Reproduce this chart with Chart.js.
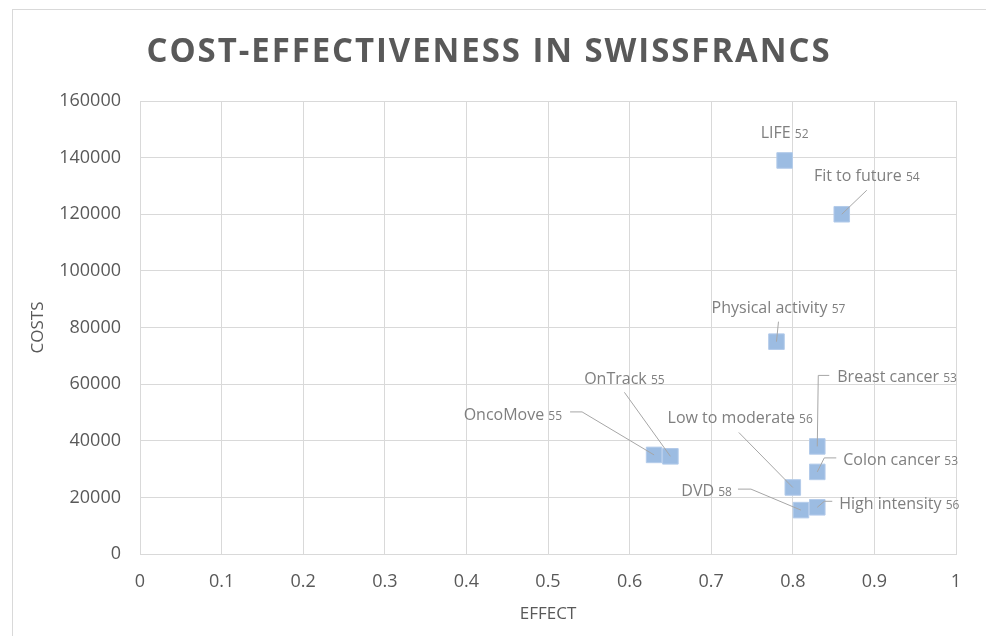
<!DOCTYPE html>
<html>
<head>
<meta charset="utf-8">
<script src="https://cdn.jsdelivr.net/npm/chart.js@4.4.1/dist/chart.umd.min.js"></script>
<style>
    html, body { margin: 0; padding: 0; background: #ffffff; }
    #wrap { position: relative; width: 986px; height: 636px; overflow: hidden; }
</style>
</head>
<body>
<div id="wrap">
    <canvas id="costChart" width="986" height="636"></canvas>
</div>
<script>
// DATA
const programs = [
    "LIFE",
    "Fit to future",
    "Physical activity",
    "Breast cancer",
    "Colon cancer",
    "Low to moderate",
    "DVD",
    "High intensity",
    "OnTrack",
    "OncoMove"
];

const refNumbers = ["52", "54", "57", "53", "53", "56", "58", "56", "55", "55"];

const effectValues = [0.79, 0.86, 0.78, 0.83, 0.83, 0.80, 0.81, 0.83, 0.65, 0.63];

const costValues = [139000, 120000, 75000, 38000, 29000, 23500, 15500, 16500, 34500, 35000];

const xTicks = [0, 0.1, 0.2, 0.3, 0.4, 0.5, 0.6, 0.7, 0.8, 0.9, 1];
const yTicks = [0, 20000, 40000, 60000, 80000, 100000, 120000, 140000, 160000];

const chartTitle = "COST-EFFECTIVENESS IN SWISSFRANCS";

// label placement, in pixels relative to each point (same order as programs)
const labelLayout = [
    { align: "center", dx: 0,   dy: -22, leader: [] },
    { align: "center", dx: 25,  dy: -33, leader: [[25, -24]] },
    { align: "center", dx: 2,   dy: -29, leader: [[2, -20]] },
    { align: "left",   dx: 20,  dy: -64, leader: [[12, -71], [1, -71]] },
    { align: "left",   dx: 26,  dy: -7,  leader: [[19, -14], [7, -14]] },
    { align: "right",  dx: 20,  dy: -64, leader: [[-54, -55]] },
    { align: "right",  dx: -69, dy: -14, leader: [[-63, -21], [-50, -21]] },
    { align: "left",   dx: 22,  dy: 2,   leader: [[15, -6], [7, -6]] },
    { align: "center", dx: -46, dy: -72, leader: [[-46, -64]] },
    { align: "right",  dx: -92, dy: -35, leader: [[-84, -43], [-72, -43]] }
];

const points = effectValues.map((x, i) => ({ x: x, y: costValues[i] }));

const fontName = "'Open Sans', 'Liberation Sans', sans-serif";
const gridColor = "#d9d9d9";

// frame + title
const framePlugin = {
    id: "frameTitle",
    beforeDraw(chart)
    {
        const ctx = chart.ctx;
        ctx.save();
        ctx.strokeStyle = gridColor;
        ctx.lineWidth = 1;
        ctx.strokeRect(12.5, 9.5, 1000, 700);

        ctx.fillStyle = "#595959";
        ctx.font = "bold 34px " + fontName;
        ctx.textBaseline = "alphabetic";
        ctx.textAlign = "left";
        ctx.letterSpacing = "2px";
        const w = ctx.measureText(chartTitle).width;
        const targetWidth = 685;
        ctx.translate(489 - targetWidth / 2, 62);
        ctx.scale(targetWidth / w, 1);
        ctx.fillText(chartTitle, 0, 0);
        ctx.restore();
    }
};

// data labels with leader lines
const labelPlugin = {
    id: "pointLabels",
    afterDatasetsDraw(chart)
    {
        const ctx = chart.ctx;
        const meta = chart.getDatasetMeta(0);

        ctx.save();

        meta.data.forEach((pt, i) =>
        {
            const lay = labelLayout[i];

            if(lay.leader.length > 0)
            {
                ctx.strokeStyle = "#a6a6a6";
                ctx.lineWidth = 1;
                ctx.beginPath();
                ctx.moveTo(pt.x + lay.leader[0][0], pt.y + lay.leader[0][1]);
                for(let k = 1; k < lay.leader.length; k++)
                {
                    ctx.lineTo(pt.x + lay.leader[k][0], pt.y + lay.leader[k][1]);
                }
                ctx.lineTo(pt.x, pt.y);
                ctx.stroke();
            }

            const nameFont = "16px " + fontName;
            const numFont = "12px " + fontName;

            ctx.font = nameFont;
            const nameText = programs[i] + " ";
            const nameW = ctx.measureText(nameText).width;
            ctx.font = numFont;
            const numW = ctx.measureText(refNumbers[i]).width;
            const total = nameW + numW;

            let left = pt.x + lay.dx;
            if(lay.align === "center") left -= total / 2;
            else if(lay.align === "right") left -= total;

            const base = pt.y + lay.dy;

            ctx.fillStyle = "#7f7f7f";
            ctx.textAlign = "left";
            ctx.textBaseline = "alphabetic";
            ctx.font = nameFont;
            ctx.fillText(nameText, left, base);
            ctx.font = numFont;
            ctx.fillText(refNumbers[i], left + nameW, base);
        });

        ctx.restore();
    }
};

const ctx = document.getElementById("costChart").getContext("2d");

const costChart = new Chart(ctx, {
    type: "scatter",
    data: {
        datasets: [{
            label: "Programs",
            data: points,
            pointStyle: "rect",
            pointRadius: 11,
            pointHoverRadius: 11,
            backgroundColor: "#9cbce2",
            borderColor: "#b3cbea",
            borderWidth: 1
        }]
    },
    options: {
        responsive: false,
        animation: false,
        layout: {
            padding: { top: 101, right: 30, left: 0, bottom: 0 }
        },
        plugins: {
            legend: { display: false },
            tooltip: { enabled: false },
            title: { display: false }
        },
        scales: {
            x: {
                type: "linear",
                min: 0,
                max: 1,
                afterBuildTicks: (scale) => {
                    scale.ticks = xTicks.map(v => ({ value: v }));
                },
                afterFit: (scale) => { scale.height = 82; },
                ticks: {
                    padding: 17,
                    color: "#595959",
                    font: { family: fontName, size: 18 },
                    callback: (v) => String(Math.round(v * 10) / 10)
                },
                grid: { color: gridColor, drawTicks: false },
                border: { color: gridColor },
                title: {
                    display: true,
                    text: "EFFECT",
                    color: "#595959",
                    font: { family: fontName, size: 17 },
                    padding: { top: 0, bottom: 12 }
                }
            },
            y: {
                type: "linear",
                min: 0,
                max: 160000,
                afterBuildTicks: (scale) => {
                    scale.ticks = yTicks.map(v => ({ value: v }));
                },
                afterFit: (scale) => { scale.width = 140; },
                ticks: {
                    padding: 19,
                    color: "#595959",
                    font: { family: fontName, size: 18 },
                    callback: (v) => String(v)
                },
                grid: { color: gridColor, drawTicks: false },
                border: { color: gridColor },
                title: {
                    display: true,
                    text: "COSTS",
                    color: "#595959",
                    font: { family: fontName, size: 17 },
                    padding: { top: 28, bottom: 0 }
                }
            }
        }
    },
    plugins: [framePlugin, labelPlugin]
});
</script>
</body>
</html>
